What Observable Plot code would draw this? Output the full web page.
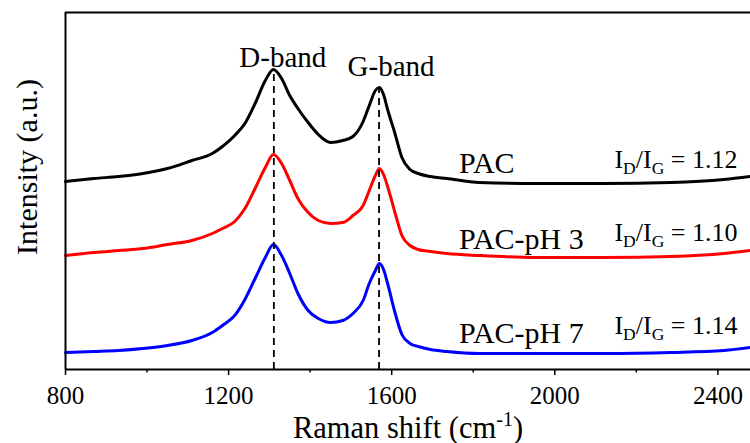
<!DOCTYPE html>
<html><head><meta charset="utf-8">
<script src="https://cdn.jsdelivr.net/npm/d3@7"></script>
<script src="https://cdn.jsdelivr.net/npm/@observablehq/plot@0.6"></script>
<style>html,body{margin:0;padding:0;background:#fff} svg{display:block}</style>
</head><body><div id="chart"></div>
<script>
// Raman shift (cm-1) sample positions
const wavenumber = [800, 870, 930, 990, 1050, 1110, 1160, 1185, 1215, 1240, 1265, 1290, 1310, 1330, 1350, 1370, 1395, 1420, 1450, 1480, 1505, 1530, 1545, 1560, 1570, 1580, 1590, 1608, 1625, 1645, 1665, 1695, 1735, 1815, 1955, 2120, 2285, 2415, 2480];
// Intensities (a.u., stacked traces)
const pac    = [188, 191, 193, 196, 201, 209, 216, 223, 234, 246, 266, 289, 300, 291, 274, 261, 247, 235, 227, 229, 233, 248, 264, 279, 282, 275, 260, 236, 212, 200, 196, 193, 191, 187, 186, 186, 187, 190, 193];
const pacPH3 = [114, 117, 119, 121, 125, 129, 136, 141, 148, 161, 181, 202, 215, 206, 189, 171, 157, 149, 146, 147, 154, 164, 179, 194, 201, 195, 183, 157, 134, 124, 120, 118, 116, 114, 112, 112, 113, 116, 119];
const pacPH7 = [17, 18, 19, 21, 24, 29, 37, 44, 54, 70, 91, 112, 125, 114, 96, 76, 59, 51, 47, 49, 56, 69, 86, 99, 106, 100, 86, 57, 35, 26, 23, 20, 18, 16, 16, 16, 17, 19, 22];

const seriesNames  = ["PAC", "PAC-pH 3", "PAC-pH 7"];
const seriesColors = ["#000000", "#ff0000", "#0000ff"];
const ratioValues  = ["1.12", "1.10", "1.14"];
const bandNames     = ["D-band", "G-band"];
const bandPositions = [1311, 1569];
const majorTicks = [800, 1200, 1600, 2000, 2400];
const minorTicks = [1000, 1400, 1800, 2200];
const xLabel = "Raman shift (cm-1)";
const yLabel = "Intensity (a.u.)";

// annotation anchors (data units)
const seriesLabelX = 1765;
const seriesLabelY = [197, 121, 27];
const ratioLabelX = 2448;
const ratioLabelY = [202, 129, 36];

const allSeries = [pac, pacPH3, pacPH7];
const rows = [];
allSeries.forEach((vals, s) => wavenumber.forEach((w, i) => rows.push({w, v: vals[i], s: seriesNames[s]})));

function nearestValue(series, x) {
  let best = 0;
  wavenumber.forEach((w, i) => { if (Math.abs(w - x) < Math.abs(wavenumber[best] - x)) best = i; });
  return series[best];
}
const bands = bandNames.map((name, i) => ({name, x: bandPositions[i], top: nearestValue(pac, bandPositions[i])}));
const seriesLabels = seriesNames.map((name, i) => ({name, x: seriesLabelX, y: seriesLabelY[i]}));
const ratioLabels = ratioValues.map((r, i) => ({t: "I_D/I_G = " + r, x: ratioLabelX, y: ratioLabelY[i]}));

const FONT = "'Liberation Serif', 'Times New Roman', serif";

const chart = Plot.plot({
  width: 750, height: 443,
  marginLeft: 65, marginRight: 0, marginTop: 12, marginBottom: 74,
  style: {fontFamily: FONT, fontSize: "25px", background: "#fff", color: "#000"},
  x: {domain: [800, 2480]},
  y: {domain: [0, 357], axis: null},
  color: {domain: seriesNames, range: seriesColors},
  marks: [
    Plot.line(rows, {x: "w", y: "v", z: "s", stroke: "s", strokeWidth: 3, strokeLinejoin: "round", curve: "monotone-x"}),
    Plot.ruleX(bands, {x: "x", y1: 0, y2: "top", stroke: "#000", strokeWidth: 1.8, strokeDasharray: "7,5"}),
    Plot.ruleY([0, 357], {stroke: "#000", strokeWidth: 2}),
    Plot.ruleX([800], {stroke: "#000", strokeWidth: 2}),
    Plot.axisX(majorTicks, {tickSize: 6, tickPadding: 11, fontSize: 25, label: null, strokeWidth: 1.5, tickFormat: d => String(d)}),
    Plot.axisX(minorTicks, {tickSize: 3.5, tickFormat: () => "", label: null, strokeWidth: 1.5}),
    Plot.text([bands[0]], {x: "x", y: "top", text: "name", dx: 9, dy: -3, lineAnchor: "bottom", fontSize: 29}),
    Plot.text([bands[1]], {x: "x", y: "top", text: "name", dx: 12, dy: -12, lineAnchor: "bottom", fontSize: 29}),
    Plot.text(seriesLabels, {x: "x", y: "y", text: "name", textAnchor: "start", lineAnchor: "bottom", fontSize: 30}),
    Plot.text(ratioLabels, {x: "x", y: "y", text: "t", textAnchor: "end", lineAnchor: "bottom", fontSize: 26}),
    Plot.text([xLabel], {frameAnchor: "bottom", dy: 68, lineAnchor: "bottom", fontSize: 30.5}),
    Plot.text([yLabel], {frameAnchor: "left", dx: -38, dy: -24, rotate: -90, textAnchor: "middle", fontSize: 30})
  ]
});

document.getElementById("chart").appendChild(chart);

// rich text: subscripts / superscripts
d3.select(chart).selectAll("text").each(function() {
  const el = d3.select(this);
  const t = this.textContent;
  if (t === xLabel) {
    el.text(null);
    el.append("tspan").text("Raman shift (cm");
    el.append("tspan").attr("font-size", 20).attr("dy", -12).text("-1");
    el.append("tspan").attr("font-size", 30.5).attr("dy", 12).text(")");
  } else if (t.startsWith("I_D/I_G")) {
    const rest = t.slice(7);
    el.text(null);
    el.append("tspan").text("I");
    el.append("tspan").attr("font-size", 17.5).attr("dy", 6).text("D");
    el.append("tspan").attr("font-size", 26).attr("dy", -6).text("/I");
    el.append("tspan").attr("font-size", 17.5).attr("dy", 6).text("G");
    el.append("tspan").attr("font-size", 26).attr("dy", -6).text(rest);
  }
});
</script>
</body></html>
